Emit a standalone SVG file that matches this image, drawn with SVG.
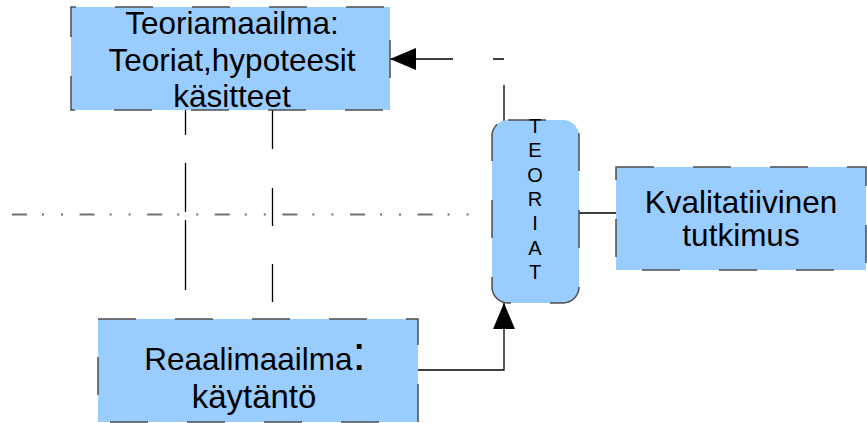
<svg xmlns="http://www.w3.org/2000/svg" width="867" height="423" viewBox="0 0 867 423">
<style>
.box{fill:#99ccff;stroke:#4d4d4d;stroke-width:1.5;stroke-dasharray:38 39}
.t{font-family:"Liberation Sans",Arial,sans-serif;font-size:31.5px;fill:#000;text-anchor:middle}
.tv{font-family:"Liberation Sans",Arial,sans-serif;font-size:20px;fill:#000;text-anchor:middle}
.conn{fill:none;stroke:#000;stroke-width:1.3}
</style>
<defs>
<marker id="arr" markerUnits="userSpaceOnUse" markerWidth="28" markerHeight="24" viewBox="0 0 28 24" refX="26" refY="12" orient="auto">
<path d="M0,1 L26,12 L0,23 Z" fill="#000"/>
</marker>
</defs>
<g id="guides">
<path d="M12,214.5 H478" fill="none" stroke="#707070" stroke-width="2" stroke-dasharray="15 15 2 17 2 16.6"/>
<path d="M185.5,110 V135 M185.5,163 V212 M185.5,220 V290" fill="none" stroke="#000" stroke-width="1.3"/>
<path d="M272.5,110 V149 M272.5,188 V226 M272.5,264 V302" fill="none" stroke="#000" stroke-width="1.3"/>
</g>
<g id="connectors">
<path class="conn" d="M504,122 V85 M504,59 H493 M453,59 H390" marker-end="url(#arr)"/>
<path class="conn" d="M418,370 H504 V303" marker-end="url(#arr)"/>
<path class="conn" d="M579,213 H617"/>
</g>
<g id="teoriamaailma">
<rect class="box" x="71" y="7" width="319" height="103" stroke-dashoffset="33"/>
<text class="t" x="232" y="33.5">Teoriamaailma:</text>
<text class="t" x="232" y="71">Teoriat,hypoteesit</text>
<text class="t" x="232" y="107">käsitteet</text>
</g>
<g id="teoriat">
<rect class="box" x="492" y="120" width="87" height="183" rx="16" ry="16"/>
<text class="tv" x="535" y="133">T<tspan x="535" dy="24.3">E</tspan><tspan x="535" dy="24.3">O</tspan><tspan x="535" dy="24.3">R</tspan><tspan x="535" dy="24.3">I</tspan><tspan x="535" dy="24.3">A</tspan><tspan x="535" dy="24.3">T</tspan></text>
</g>
<g id="kvalitatiivinen">
<rect class="box" x="616" y="167" width="250" height="103" stroke-dashoffset="0"/>
<text class="t" x="741" y="213">Kvalitatiivinen</text>
<text class="t" x="741" y="246">tutkimus</text>
</g>
<g id="reaalimaailma">
<rect class="box" x="98" y="319" width="320" height="103" stroke-dashoffset="0"/>
<text class="t" x="255" y="370">Reaalimaailma<tspan style="font-size:48px">:</tspan></text>
<text class="t" x="254" y="408" style="font-size:33px">käytäntö</text>
</g>
</svg>
